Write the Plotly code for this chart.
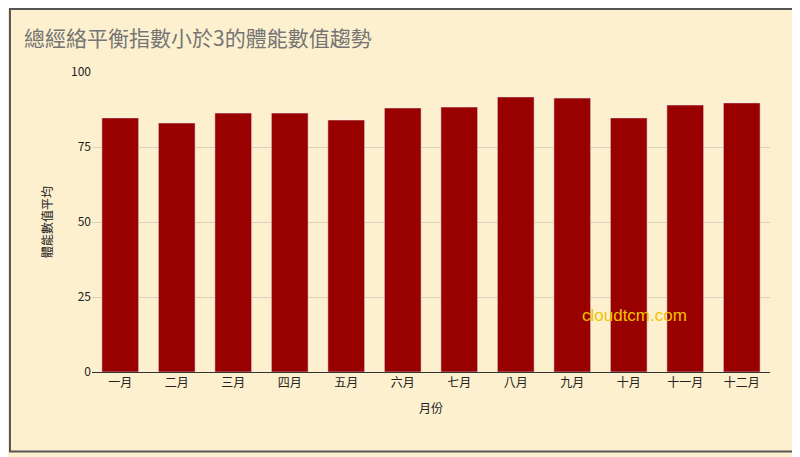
import plotly.graph_objects as go

months = ["一月","二月","三月","四月","五月","六月","七月","八月","九月","十月","十一月","十二月"]
values = [84.7, 83.0, 86.3, 86.3, 84.0, 88.0, 88.3, 91.7, 91.3, 84.7, 89.0, 89.7]
yticks = [0, 25, 50, 75, 100]

fig = go.Figure(go.Bar(x=months, y=values, marker_color="#990000", width=0.65))
fig.update_layout(
    width=800, height=457,
    paper_bgcolor="#FDF0CE", plot_bgcolor="#FDF0CE",
    margin=dict(l=84, r=38, t=64, b=93),
    title=dict(text="總經絡平衡指數小於3的體能數值趨勢", x=0.02, y=0.95, xanchor="left",
               font=dict(size=21, color="#757575", family="Noto Sans CJK TC")),
    font=dict(family="Noto Sans CJK TC", color="#222", size=12),
    showlegend=False,
    xaxis=dict(title=dict(text="月份", font=dict(size=12)), showline=True, linecolor="#333", ticks=""),
    yaxis=dict(title=dict(text="體能數值平均", font=dict(size=12)), range=[0, 100], tickvals=yticks,
               gridcolor="#D9D2BC", zeroline=False),
    shapes=[dict(type="rect", xref="paper", yref="paper", x0=-0.121, x1=1.04, y0=-0.265, y1=1.21,
                 line=dict(color="#555", width=2))],
    annotations=[dict(text="cloudtcm.com", xref="paper", yref="paper", x=0.88, y=0.15,
                      showarrow=False, font=dict(size=17, color="#F2C200", family="Liberation Sans"))],
)
fig.write_html("out.html")
